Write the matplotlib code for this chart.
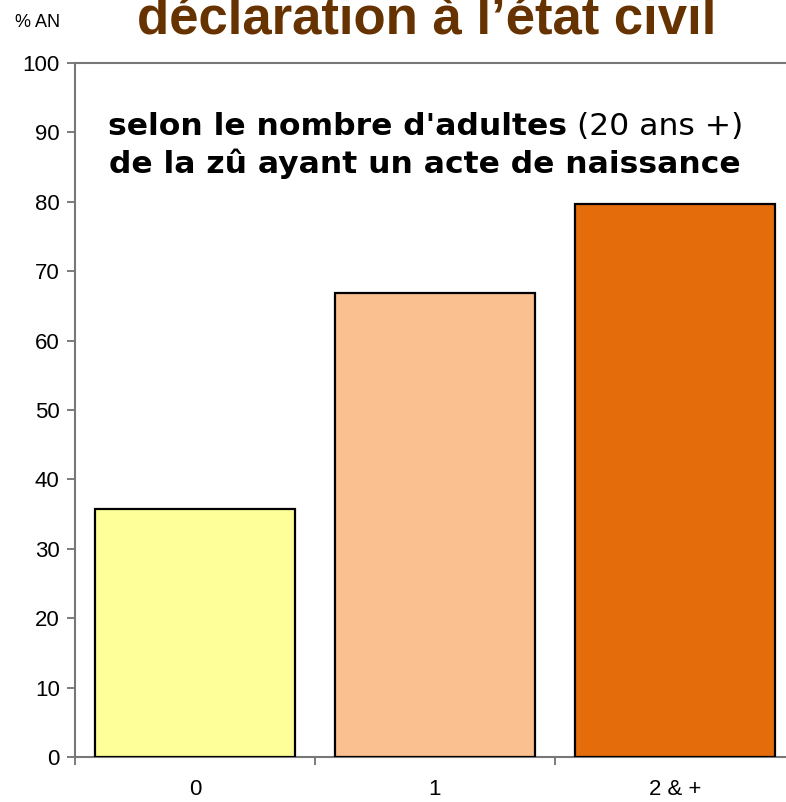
import matplotlib
matplotlib.use("Agg")
import matplotlib.pyplot as plt

# ------------------------------------------------------------
# data
# ------------------------------------------------------------
categories = ["0", "1", "2 & +"]
pct_an = [35.7, 66.9, 79.7]
bar_colors = ["#FFFF99", "#FAC090", "#E46C0A"]
yticks = list(range(0, 101, 10))

title = "déclaration à l’état civil"
sub_bold_1 = "selon le nombre d'adultes"
sub_norm_1 = " (20 ans +)"
sub_line_2 = "de la zû ayant un acte de naissance"

plt.rcParams["font.family"] = ["Liberation Sans", "DejaVu Sans"]

fig = plt.figure(figsize=(7.86, 8.02), dpi=100)
ax = fig.add_axes([75 / 786, 45 / 802, 720 / 786, 694 / 802])

x = list(range(len(categories)))
ax.bar(x, pct_an, width=0.83, color=bar_colors, edgecolor="black",
       linewidth=1.6, zorder=3)

ax.set_xlim(-0.5, 2.5)
ax.set_ylim(0, 100)
ax.set_yticks(yticks)
ax.tick_params(axis="y", labelsize=16, length=6, width=1.2,
               color="#666666", pad=5)
# x ticks sit between categories, labels under bar centres
ax.set_xticks([-0.5, 0.5, 1.5, 2.5])
ax.set_xticklabels([])
ax.set_xticks(x, minor=True)
ax.set_xticklabels(categories, minor=True)
ax.tick_params(axis="x", which="major", length=6, width=1.2,
               color="#666666")
ax.tick_params(axis="x", which="minor", length=0, labelsize=16, pad=16)

for side in ["left", "bottom", "top"]:
    ax.spines[side].set_color("#777777")
    ax.spines[side].set_linewidth(1.5)
ax.spines["right"].set_visible(False)

# --- titles (the big title is cut by the top edge, as in the source) ---
fig.text(427 / 786, 1 - 33 / 802, title, ha="center", va="baseline",
         fontsize=38, fontweight="bold", color="#663300",
         family=["Liberation Sans Narrow", "Liberation Sans"])
fig.text(15 / 786, 1 - 27 / 802, "% AN", ha="left", va="baseline",
         fontsize=13)

sub_font = ["DejaVu Sans"]
t1 = fig.text(108 / 786, 1 - 135 / 802, sub_bold_1, ha="left",
              va="baseline", fontsize=22.6, fontweight="bold", family=sub_font)
ax.annotate(sub_norm_1, xy=(1, 0), xycoords=t1, ha="left",
            va="bottom", fontsize=22.6, family=sub_font)
fig.text(425 / 786, 1 - 173 / 802, sub_line_2, ha="center",
         va="baseline", fontsize=22.6, fontweight="bold", family=sub_font)

fig.savefig("out.png", dpi=100)
